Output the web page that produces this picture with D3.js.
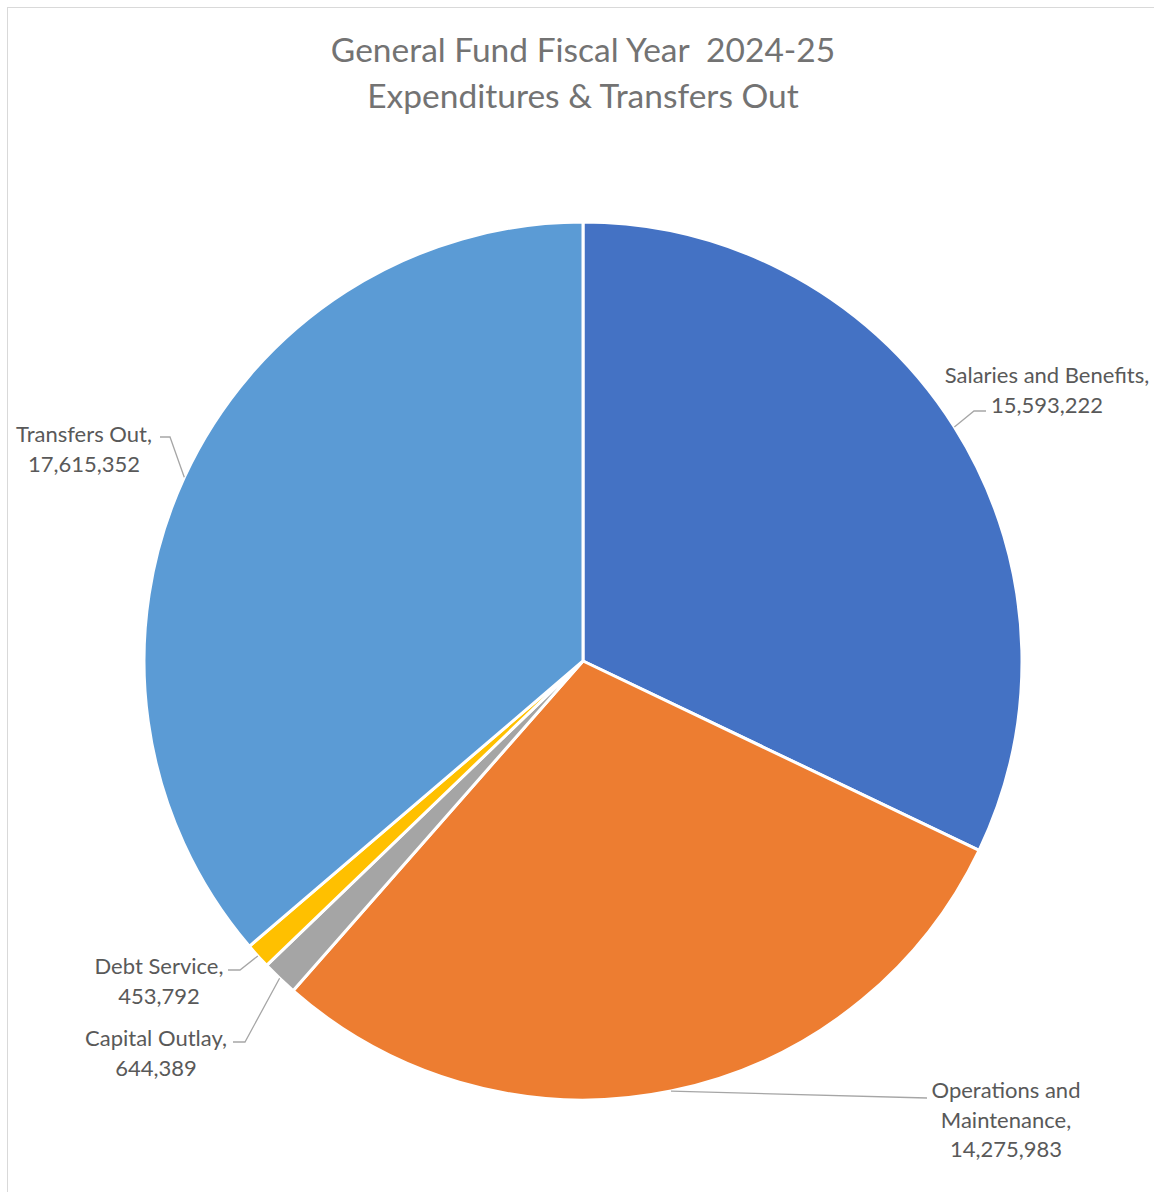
<!DOCTYPE html>
<html>
<head>
<meta charset="utf-8">
<script src="https://cdn.jsdelivr.net/npm/d3@7"></script>
<style>
  body { margin: 0; background: #fff; }
  text { font-family: Lato, "Open Sans", sans-serif; }
</style>
</head>
<body>
<svg id="chart" width="1154" height="1192"></svg>
<script>
// chart data
const categories = ['Salaries and Benefits', 'Operations and Maintenance', 'Capital Outlay', 'Debt Service', 'Transfers Out'];
const values = [15593222, 14275983, 644389, 453792, 17615352];
const colors = ['#4472C4', '#ED7D31', '#A5A5A5', '#FFC000', '#5B9BD5'];
const titleLines = ['General Fund Fiscal Year  2024-25', 'Expenditures & Transfers Out'];

// label placement (layout only): text lines, anchor x, first baseline, leader end points
const labelLayout = [
  { lines: ['Salaries and Benefits,', '15,593,222'], x: 1047, y: 383, elbow: [[974, 411], [986, 411]] },
  { lines: ['Operations and', 'Maintenance,', '14,275,983'], x: 1006, y: 1098, elbow: [[927, 1098]] },
  { lines: ['Capital Outlay,', '644,389'], x: 156, y: 1046, elbow: [[245, 1042], [233, 1042]] },
  { lines: ['Debt Service,', '453,792'], x: 159, y: 974, elbow: [[240, 970], [228, 970]] },
  { lines: ['Transfers Out,', '17,615,352'], x: 84, y: 442, elbow: [[170, 437], [160, 437]] }
];

const svg = d3.select('#chart');
const width = +svg.attr('width');
const cx = 583, cy = 661, radius = 439;

// outer chart border
svg.append('rect')
    .attr('x', 7.5).attr('y', 7.5)
    .attr('width', width).attr('height', 1200)
    .attr('fill', 'none')
    .attr('stroke', '#d9d9d9')
    .attr('stroke-width', 1);

svg.append('g')
  .selectAll('text')
    .data(titleLines)
  .enter().append('text')
    .attr('x', cx)
    .attr('y', (d, i) => 62 + i * 46)
    .attr('text-anchor', 'middle')
    .style('white-space', 'pre')
    .attr('font-size', 33.5)
    .attr('fill', '#737373')
    .text(d => d);

const pie = d3.pie().sort(null).value(d => d)(values);
const arc = d3.arc().innerRadius(0).outerRadius(radius);

const g = svg.append('g').attr('transform', `translate(${cx},${cy})`);
g.selectAll('path')
    .data(pie)
  .enter().append('path')
    .attr('d', arc)
    .attr('fill', (d, i) => colors[i])
    .attr('stroke', '#fff')
    .attr('stroke-width', 3)
    .attr('stroke-linejoin', 'round');

// leader lines from slice edge midpoint
const edge = d3.arc().innerRadius(radius).outerRadius(radius);
svg.append('g')
  .selectAll('polyline')
    .data(pie)
  .enter().append('polyline')
    .attr('points', (d, i) => {
      const [px, py] = edge.centroid(d);
      const pts = [[cx + px, cy + py]].concat(labelLayout[i].elbow);
      return pts.map(p => p.join(',')).join(' ');
    })
    .attr('fill', 'none')
    .attr('stroke', '#a6a6a6')
    .attr('stroke-width', 1.3);

const labels = svg.append('g')
  .selectAll('text')
    .data(labelLayout)
  .enter().append('text')
    .attr('text-anchor', 'middle')
    .attr('font-size', 22)
    .attr('fill', '#595959');
labels.selectAll('tspan')
    .data(d => d.lines.map(t => ({ t, x: d.x, y: d.y })))
  .enter().append('tspan')
    .attr('x', d => d.x)
    .attr('y', (d, i) => d.y + i * 29.5)
    .text(d => d.t);
</script>
</body>
</html>
